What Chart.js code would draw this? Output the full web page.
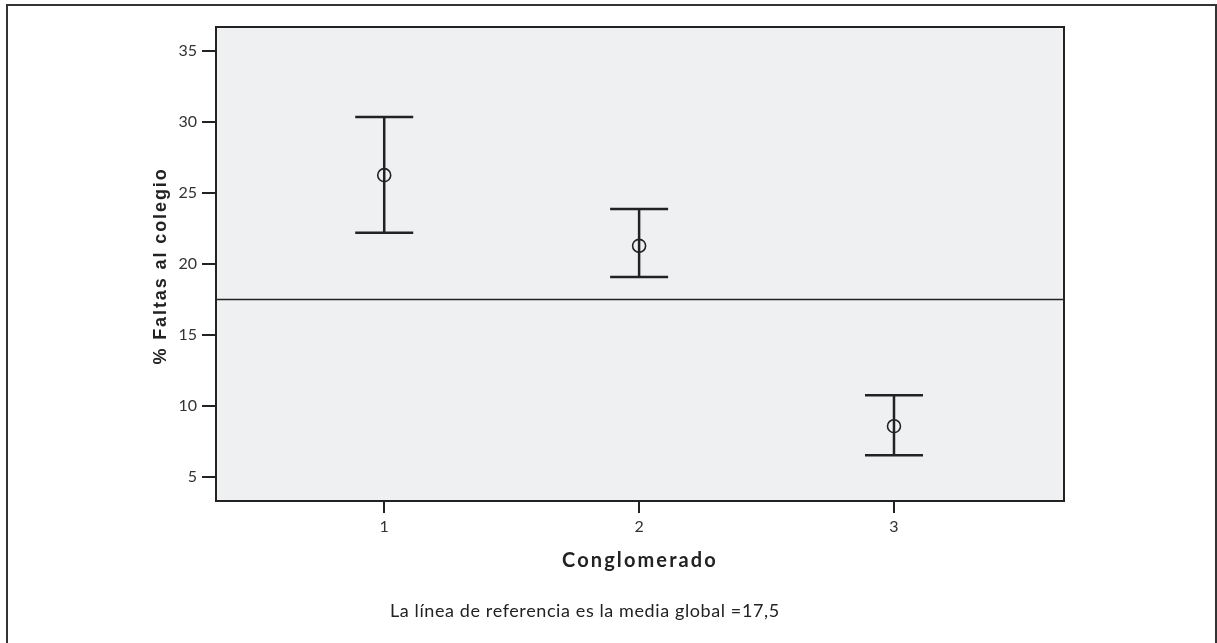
<!DOCTYPE html>
<html>
<head>
<meta charset="utf-8">
<script src="https://cdn.jsdelivr.net/npm/chart.js@4"></script>
<style>
  body { margin: 0; background: #fff; }
  #wrap { position: relative; width: 1217px; height: 643px; overflow: hidden; }
  #frame { position: absolute; left: 6px; top: 4px; width: 1211px; height: 700px; box-sizing: border-box; border: 2px solid #333; }
  canvas { position: absolute; left: 0; top: 0; }
  .txt { position: absolute; color: #222; white-space: nowrap; }
  #note { left: 390px; top: 599px; font: 18px Lato, sans-serif; line-height: 22px; letter-spacing: 0.6px; }
  #xtitle { left: 440px; width: 400px; top: 547px; text-align: center; font: bold 20px Lato, sans-serif; line-height: 24px; letter-spacing: 2.1px; }
  #ytitle { left: 10px; top: 256px; width: 300px; height: 20px; text-align: center; font: bold 18px "Liberation Sans", Arial, sans-serif; line-height: 20px; letter-spacing: 1.9px; transform: rotate(-90deg); transform-origin: 150px 10px; }
</style>
</head>
<body>
<div id="wrap">
  <div id="frame"></div>
  <canvas id="chart" width="1217" height="643"></canvas>
  <div class="txt" id="ytitle">% Faltas al colegio</div>
  <div class="txt" id="xtitle">Conglomerado</div>
  <div class="txt" id="note">La línea de referencia es la media global =17,5</div>
</div>
<script>
// Data
const categories = [1, 2, 3];
const means = [26.26, 21.28, 8.57];
const upper = [30.35, 23.87, 10.76];
const lower = [22.2, 19.09, 6.53];
const refValue = 17.5;
const yTicks = [5, 10, 15, 20, 25, 30, 35];

const ink = '#222';
const tickFont = { family: "'Liberation Sans Narrow', Lato, sans-serif", size: 16 };

// Plot background, reference line and error bars
const errorBars = {
  id: 'errorBars',
  beforeDraw(chart) {
    const { ctx, chartArea: a } = chart;
    ctx.save();
    ctx.fillStyle = '#eff0f2';
    ctx.fillRect(a.left, a.top, a.right - a.left, a.bottom - a.top);
    ctx.restore();
  },
  beforeDatasetsDraw(chart) {
    const { ctx, chartArea: a, scales } = chart;
    const x = scales.x, y = scales.y;
    ctx.save();
    ctx.strokeStyle = ink;

    // reference line
    ctx.lineWidth = 1.5;
    const ry = y.getPixelForValue(refValue);
    ctx.beginPath();
    ctx.moveTo(a.left, ry);
    ctx.lineTo(a.right, ry);
    ctx.stroke();

    // whiskers
    ctx.lineWidth = 2.5;
    const cap = 29;
    categories.forEach((c, i) => {
      const px = x.getPixelForValue(c);
      const top = y.getPixelForValue(upper[i]);
      const bot = y.getPixelForValue(lower[i]);
      ctx.beginPath();
      ctx.moveTo(px, top);
      ctx.lineTo(px, bot);
      ctx.moveTo(px - cap, top);
      ctx.lineTo(px + cap, top);
      ctx.moveTo(px - cap, bot);
      ctx.lineTo(px + cap, bot);
      ctx.stroke();
    });
    ctx.restore();
  },
  afterDraw(chart) {
    const { ctx, chartArea: a } = chart;
    ctx.save();
    ctx.strokeStyle = ink;
    ctx.lineWidth = 2;
    ctx.strokeRect(a.left, a.top, a.right - a.left, a.bottom - a.top);
    ctx.restore();
  }
};

new Chart(document.getElementById('chart'), {
  type: 'scatter',
  data: {
    datasets: [{
      data: categories.map((c, i) => ({ x: c, y: means[i] })),
      pointStyle: 'circle',
      pointRadius: 6.5,
      borderColor: ink,
      backgroundColor: 'rgba(0,0,0,0)',
      borderWidth: 1.6
    }]
  },
  options: {
    responsive: false,
    animation: false,
    layout: { padding: { left: 147, right: 153, top: 27, bottom: 74 } },
    plugins: { legend: { display: false }, tooltip: { enabled: false } },
    scales: {
      x: {
        type: 'linear',
        min: 0.34,
        max: 3.667,
        afterBuildTicks: (s) => { s.ticks = categories.map(v => ({ value: v })); },
        afterFit: (s) => { s.height = 68; },
        grid: { drawOnChartArea: false, drawTicks: true, tickLength: 12, color: ink, lineWidth: 2 },
        border: { display: true, color: ink, width: 2 },
        ticks: { color: '#333', padding: 4, font: tickFont }
      },
      y: {
        min: 3.3,
        max: 36.7,
        afterBuildTicks: (s) => { s.ticks = yTicks.map(v => ({ value: v })); },
        afterFit: (s) => { s.width = 69; },
        grid: { drawOnChartArea: false, drawTicks: true, tickLength: 14, color: ink, lineWidth: 2 },
        border: { display: true, color: ink, width: 2 },
        ticks: { color: '#333', padding: 5, font: tickFont }
      }
    }
  },
  plugins: [errorBars]
});
</script>
</body>
</html>
